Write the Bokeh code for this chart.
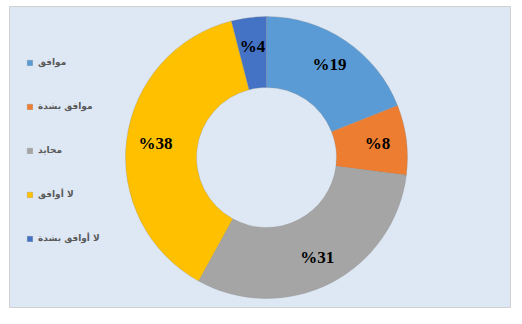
import math
from bokeh.plotting import figure
from bokeh.models import ColumnDataSource, Range1d, Legend, LegendItem
from bokeh.core.properties import value
from bokeh.embed import file_html
from bokeh.resources import INLINE

categories = ["موافق", "موافق بشدة", "محايد", "لا أوافق", "لا أوافق بشدة"]
percents = [19, 8, 31, 38, 4]
colors = ["#5B9BD5", "#ED7D31", "#A5A5A5", "#FFC000", "#4472C4"]

total = float(sum(percents))
starts, ends, lx, ly, labels = [], [], [], [], []
cum = 0.0
r_in, r_out = 70, 141
r_lab = 112
for v in percents:
    a0 = math.pi / 2 - 2 * math.pi * (cum + v) / total
    a1 = math.pi / 2 - 2 * math.pi * cum / total
    starts.append(a0)
    ends.append(a1)
    mid = (a0 + a1) / 2
    lx.append(r_lab * math.cos(mid))
    ly.append(r_lab * math.sin(mid))
    labels.append("%" + str(v))
    cum += v

src = ColumnDataSource(dict(cat=categories, v=percents, color=colors,
                            start=starts, end=ends, lx=lx, ly=ly, label=labels))

p = figure(width=522, height=324, output_backend="svg", toolbar_location=None,
           x_range=Range1d(-257, 244), y_range=Range1d(-150, 151),
           min_border_left=9, min_border_right=12, min_border_top=6, min_border_bottom=17)
p.axis.visible = False
p.grid.visible = False
p.background_fill_color = "#DEE8F4"
p.border_fill_color = "white"
p.outline_line_color = "#D0D0D0"
p.outline_line_width = 1

r = p.annular_wedge(x=0, y=0, inner_radius=r_in, outer_radius=r_out,
                    inner_radius_units="screen", outer_radius_units="screen",
                    start_angle="start", end_angle="end", direction="anticlock",
                    fill_color="color", line_color="#8a8a8a", line_alpha=0.35,
                    line_width=0.8, source=src)

p.text(x="lx", y="ly", text="label", source=src, text_align="center", text_baseline="middle",
       text_font=value("Liberation Serif"), text_font_style="bold", text_font_size="17px",
       text_color="black")

items = [LegendItem(label=c, renderers=[r], index=i) for i, c in enumerate(categories)]
legend = Legend(items=items, location=(17, 64), orientation="vertical",
                background_fill_alpha=0, border_line_alpha=0, padding=0, margin=0,
                spacing=34, glyph_width=7, glyph_height=7, label_height=10,
                label_standoff=5, label_text_font="DejaVu Sans",
                label_text_font_size="9px", label_text_font_style="bold",
                label_text_color="#595959")
p.add_layout(legend)

open("out.html", "w").write(file_html(p, INLINE))
